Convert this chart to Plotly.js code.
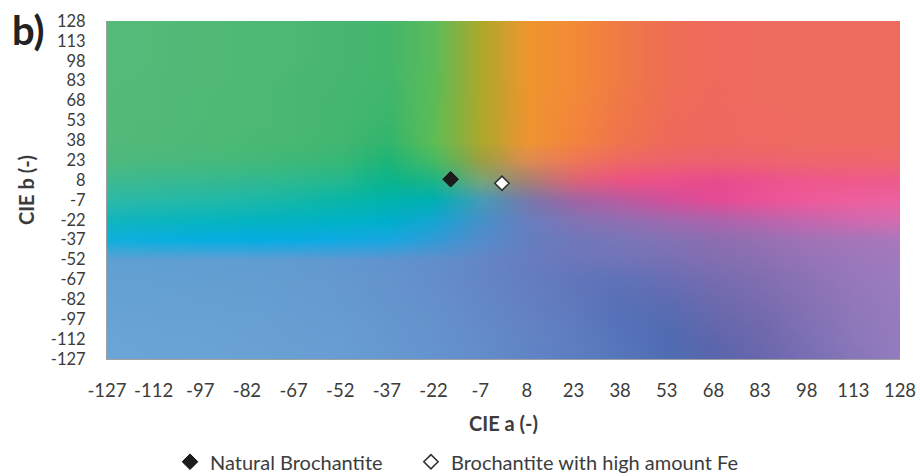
<!DOCTYPE html>
<html><head><meta charset="utf-8">
<script src="https://cdn.plot.ly/plotly-3.0.1.min.js"></script>
<style>html,body{margin:0;padding:0;background:#fff}#chart{width:920px;height:476px}</style>
</head><body><div id="chart"></div>
<script>
// Axis ticks (CIE a on x, CIE b on y)
const aTicks = [-127,-112,-97,-82,-67,-52,-37,-22,-7,8,23,38,53,68,83,98,113,128];
const bTicks = [128,113,98,83,68,53,38,23,8,-7,-22,-37,-52,-67,-82,-97,-112,-127];

// Series
const seriesNames = ['Natural Brochantite', 'Brochantite with high amount Fe'];
const seriesA = [-16.5, 0];
const seriesB = [8.6, 5.6];

// Background colour read at every (a tick, b tick) crossing; rows from b=128 (top) to b=-127
const bgColors = [
 [[85,186,122],[83,186,120],[80,185,118],[78,185,116],[76,184,114],[72,183,112],[68,182,108],[92,188,90],[175,168,42],[238,150,46],[243,138,55],[240,122,70],[238,110,84],[238,106,92],[238,108,95],[238,108,95],[238,108,95],[238,108,95]],
 [[85,186,122],[83,186,120],[80,185,118],[78,185,116],[76,184,114],[72,183,112],[68,182,108],[92,188,90],[175,168,42],[238,150,46],[243,138,55],[240,122,70],[238,110,84],[238,106,92],[238,108,95],[238,108,95],[238,108,95],[238,108,95]],
 [[85,186,122],[83,186,120],[80,185,118],[78,185,116],[76,184,114],[72,183,112],[68,182,108],[92,188,90],[175,168,42],[238,150,46],[243,138,55],[240,122,70],[238,110,84],[238,106,92],[238,108,95],[238,108,95],[238,108,95],[238,108,95]],
 [[84,186,122],[82,186,120],[80,185,118],[78,185,116],[75,184,114],[71,183,112],[66,182,108],[92,188,88],[175,168,42],[238,150,46],[243,138,55],[240,122,70],[238,110,84],[238,106,92],[238,108,95],[238,108,95],[238,108,95],[238,108,95]],
 [[83,186,122],[81,186,120],[79,185,118],[77,185,116],[74,184,114],[70,183,112],[62,182,108],[93,188,86],[174,168,43],[239,149,47],[243,136,57],[240,120,72],[238,109,86],[238,105,94],[238,107,96],[238,108,96],[238,108,96],[238,108,96]],
 [[83,186,122],[81,186,120],[79,185,118],[77,185,116],[74,184,114],[69,183,112],[58,182,109],[94,189,85],[173,168,44],[239,149,48],[243,134,59],[240,118,74],[238,107,88],[238,104,95],[238,106,97],[238,107,97],[238,107,97],[238,107,97]],
 [[82,185,122],[80,185,120],[78,185,118],[75,185,116],[72,184,114],[66,183,112],[50,181,110],[95,189,85],[172,168,45],[240,148,50],[242,132,62],[239,116,78],[238,106,90],[238,104,96],[238,106,98],[238,107,98],[238,107,98],[238,107,98]],
 [[78,185,125],[75,185,125],[72,185,124],[68,185,122],[62,185,120],[55,184,118],[30,180,120],[70,187,100],[155,160,65],[222,140,82],[240,118,88],[238,105,100],[236,100,108],[236,98,112],[237,100,110],[238,102,110],[238,102,108],[238,104,108]],
 [[62,185,145],[58,185,145],[55,185,145],[50,185,145],[45,185,143],[35,184,142],[10,180,140],[30,180,132],[120,165,120],[168,128,115],[220,100,120],[235,82,130],[235,80,138],[232,75,140],[235,82,142],[238,88,140],[238,90,140],[238,92,140]],
 [[45,185,168],[40,185,168],[35,185,168],[30,184,168],[20,183,168],[10,182,168],[0,180,172],[0,175,180],[70,155,185],[120,120,170],[160,100,165],[185,92,162],[210,80,155],[228,75,150],[235,82,152],[238,90,155],[238,95,158],[236,98,160]],
 [[18,181,190],[12,181,190],[8,181,191],[4,180,192],[2,179,194],[0,178,197],[0,175,203],[20,165,210],[70,145,200],[105,125,190],[130,115,180],[145,110,178],[160,105,175],[172,100,172],[185,100,172],[198,102,174],[208,105,175],[212,108,176]],
 [[15,176,222],[10,175,225],[6,174,226],[5,173,227],[8,172,228],[15,170,228],[25,167,225],[50,155,215],[85,140,205],[100,127,192],[112,120,186],[120,118,184],[130,114,180],[140,110,176],[150,112,178],[160,115,182],[166,118,185],[170,120,188]],
 [[95,160,210],[95,160,210],[96,158,210],[96,157,210],[96,155,209],[96,152,208],[96,148,206],[97,143,203],[100,135,198],[103,125,192],[108,118,186],[112,116,184],[120,112,180],[130,110,176],[138,112,178],[148,116,183],[155,120,187],[160,122,190]],
 [[100,160,210],[100,160,210],[100,159,210],[100,158,209],[100,156,208],[100,153,207],[100,148,205],[100,142,202],[100,134,198],[100,126,193],[96,118,188],[95,114,184],[105,110,180],[118,108,176],[128,110,176],[140,115,182],[150,120,188],[155,125,190]],
 [[103,162,212],[102,161,211],[102,160,211],[101,159,210],[101,157,210],[100,154,208],[100,149,206],[100,144,203],[100,136,199],[100,128,194],[96,120,188],[88,112,182],[95,108,178],[110,106,174],[122,108,175],[135,114,180],[146,120,186],[152,124,190]],
 [[105,163,213],[104,162,212],[104,161,212],[103,160,211],[103,158,210],[102,156,209],[101,151,207],[100,146,204],[100,138,200],[99,130,196],[95,123,191],[85,114,184],[85,108,178],[102,104,172],[115,106,174],[130,113,180],[142,120,186],[150,124,190]],
 [[107,164,214],[106,163,213],[105,162,213],[105,161,212],[104,159,211],[103,157,210],[102,152,208],[100,147,205],[100,140,201],[98,132,197],[94,125,192],[86,116,186],[80,108,178],[95,102,172],[110,104,173],[125,112,180],[140,120,187],[150,124,190]],
 [[108,165,215],[107,164,214],[106,163,214],[106,162,213],[105,160,212],[104,158,211],[102,153,209],[100,148,206],[100,141,202],[96,133,198],[92,126,193],[86,118,188],[80,110,180],[88,102,172],[105,103,174],[120,110,180],[135,118,186],[148,124,190]]
];

// build the background picture from the sampled colours
const nx = aTicks.length, ny = bTicks.length;
const cv = document.createElement('canvas');
cv.width = nx; cv.height = ny;
const ctx = cv.getContext('2d');
const im = ctx.createImageData(nx, ny);
for (let r = 0; r < ny; r++) {
  for (let c = 0; c < nx; c++) {
    const k = (r * nx + c) * 4, col = bgColors[r][c];
    im.data[k] = col[0]; im.data[k+1] = col[1]; im.data[k+2] = col[2]; im.data[k+3] = 255;
  }
}
ctx.putImageData(im, 0, 0);
const bgSrc = cv.toDataURL('image/png');
const stepA = aTicks[1] - aTicks[0];
const stepB = bTicks[0] - bTicks[1];

const FONT = 'Lato, Carlito, Calibri, "Open Sans", sans-serif';
const TXT = '#3c3c3c';

const traces = [
  {type:'scatter', mode:'markers', name: seriesNames[0], x:[seriesA[0]], y:[seriesB[0]], legend:'legend',
   marker:{symbol:'diamond', size:12, color:'#1c1c1c', line:{color:'#111111', width:1}}},
  {type:'scatter', mode:'markers', name: seriesNames[1], x:[seriesA[1]], y:[seriesB[1]], legend:'legend2',
   marker:{symbol:'diamond', size:11, color:'#ffffff', line:{color:'#333333', width:1.6}}}
];

const legendBase = {orientation:'h', xref:'container', yref:'container', xanchor:'left', y:0.03, yanchor:'middle',
                    font:{family:FONT, size:20, color:TXT}, bgcolor:'rgba(0,0,0,0)'};

const layout = {
  width: 920, height: 476,
  margin: {l:107, r:20, t:21, b:117},
  paper_bgcolor: '#ffffff', plot_bgcolor: 'rgba(0,0,0,0)',
  font: {family: FONT, size: 18, color: TXT},
  showlegend: true,
  xaxis: {
    range: [aTicks[0], aTicks[aTicks.length-1]], tickmode:'array', tickvals: aTicks, ticktext: aTicks.map(String),
    showgrid:false, zeroline:false, showline:true, linecolor:'#a0a0a0', linewidth:1, mirror:false,
    ticks:'', ticklabelstandoff: 15, fixedrange:true, tickfont:{family:FONT, size:18.5, color:TXT},
    title: {text:'<b>CIE a (-)</b>', font:{family:FONT, size:20, color:TXT}, standoff: 16}
  },
  yaxis: {
    range: [bTicks[bTicks.length-1], bTicks[0]], tickmode:'array', tickvals: bTicks, ticktext: bTicks.map(String),
    showgrid:false, zeroline:false, showline:true, linecolor:'#a0a0a0', linewidth:1,
    ticks:'', ticklabelstandoff: 17, fixedrange:true, tickfont:{family:FONT, size:16.5, color:TXT},
    title: {text:'<b>CIE b (-)</b>', font:{family:FONT, size:20, color:TXT}, standoff: 10}
  },
  legend: Object.assign({}, legendBase, {x: 0.1848}),
  legend2: Object.assign({}, legendBase, {x: 0.4467}),
  images: [{source: bgSrc, xref:'x', yref:'y', x: aTicks[0] - stepA/2, y: bTicks[0] + stepB/2,
            sizex: stepA * nx, sizey: stepB * ny, sizing:'stretch', xanchor:'left', yanchor:'top', layer:'below'}],
  annotations: [{text:'<b>b)</b>', xref:'paper', yref:'paper', x:-0.122, y:1.05, xanchor:'left', yanchor:'top',
                 showarrow:false, font:{family:FONT, size:40, color:'#222222'}}]
};

Plotly.newPlot('chart', traces, layout, {displayModeBar:false, staticPlot:true});
</script></body></html>
